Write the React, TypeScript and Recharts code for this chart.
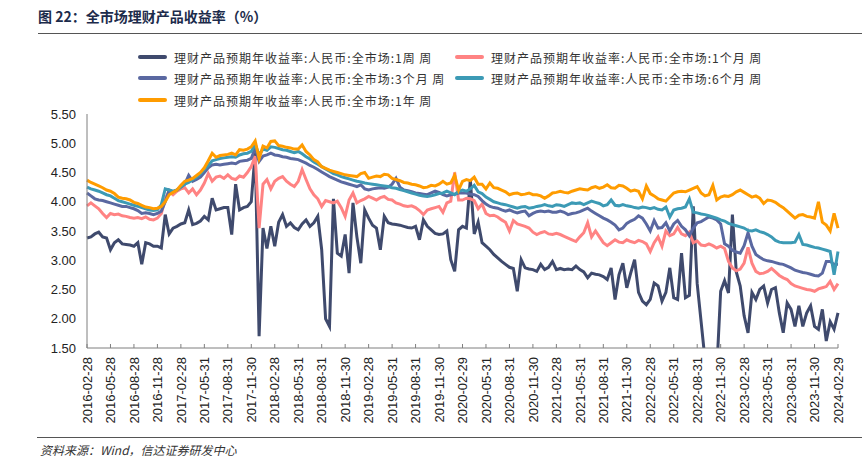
import { Line, LineChart, XAxis, YAxis } from "recharts";

// x positions are months since 2016-02-28, sampled every half month
const TICK_LABELS = [
  "2016-02-28", "2016-05-28", "2016-08-28", "2016-11-28",
  "2017-02-28", "2017-05-31", "2017-08-31", "2017-11-30",
  "2018-02-28", "2018-05-31", "2018-08-31", "2018-11-30",
  "2019-02-28", "2019-05-31", "2019-08-31", "2019-11-30",
  "2020-02-29", "2020-05-31", "2020-08-31", "2020-11-30",
  "2021-02-28", "2021-05-31", "2021-08-31", "2021-11-30",
  "2022-02-28", "2022-05-31", "2022-08-31", "2022-11-30",
  "2023-02-28", "2023-05-31", "2023-08-31", "2023-11-30",
  "2024-02-29",
];
const X_TICKS = TICK_LABELS.map((_, i) => i * 3);
const Y_TICKS = [1.5, 2, 2.5, 3, 3.5, 4, 4.5, 5, 5.5];

const SERIES_NAMES = [
  "理财产品预期年收益率:人民币:全市场:1周 周",
  "理财产品预期年收益率:人民币:全市场:1个月 周",
  "理财产品预期年收益率:人民币:全市场:3个月 周",
  "理财产品预期年收益率:人民币:全市场:6个月 周",
  "理财产品预期年收益率:人民币:全市场:1年 周",
];
const SERIES_COLORS = ["#3f4a6d", "#ff8383", "#5a68a1", "#3c9ab5", "#ff9c00"];

const week1 = [
  3.38, 3.40, 3.45, 3.48, 3.40, 3.38, 3.18, 3.30, 3.35, 3.28, 3.27, 3.26, 3.24, 3.30, 2.93, 3.30, 3.28, 3.24, 3.24, 3.21, 3.78, 3.45, 3.55, 3.58,
  3.62, 3.64, 3.86, 3.61, 3.63, 3.67, 3.75, 3.69, 4.06, 3.86, 3.88, 3.90, 3.90, 3.44, 4.30, 3.86, 3.90, 3.92, 4.00, 4.85, 1.70, 3.55, 3.20, 3.58,
  3.24, 3.65, 3.78, 3.58, 3.64, 3.56, 3.52, 3.62, 3.69, 3.58, 3.64, 3.75, 3.18, 2.00, 1.87, 4.05, 3.12, 3.07, 3.44, 2.78, 3.98, 3.40, 2.95, 3.86,
  3.72, 3.60, 3.55, 3.18, 3.75, 3.64, 3.62, 3.61, 3.60, 3.58, 3.56, 3.55, 3.58, 3.35, 3.69, 3.58, 3.52, 3.46, 3.44, 3.45, 3.50, 3.01, 2.81, 3.52,
  3.58, 3.55, 4.38, 3.45, 3.65, 3.30, 3.24, 3.18, 3.10, 3.04, 2.98, 2.93, 2.88, 2.86, 2.47, 3.01, 2.87, 2.85, 2.84, 2.81, 2.93, 2.84, 2.88, 2.98,
  2.84, 2.86, 2.84, 2.85, 2.84, 2.90, 2.84, 2.80, 2.70, 2.78, 2.76, 2.75, 2.72, 2.67, 2.87, 2.33, 2.75, 2.95, 2.53, 2.78, 3.01, 2.45, 2.30, 2.24,
  2.33, 2.61, 2.56, 2.30, 2.45, 2.87, 2.36, 2.33, 3.12, 2.36, 2.40, 3.92, 2.60, 1.95, 1.30, 0.80, 0.60, 1.10, 2.47, 2.65, 2.44, 3.78, 2.80, 2.56,
  2.05, 1.76, 2.45, 2.33, 2.50, 2.56, 2.27, 2.50, 2.53, 2.10, 1.76, 2.27, 2.16, 1.87, 2.22, 1.87, 2.10, 2.22, 1.87, 1.82, 2.16, 1.62, 1.95, 1.82,
  2.10,
];

const month1 = [
  3.93, 3.98, 3.93, 3.88, 3.80, 3.73, 3.80, 3.78, 3.79, 3.76, 3.75, 3.73, 3.72, 3.73, 3.71, 3.74, 3.70, 3.69, 3.72, 3.80, 4.05, 4.18, 4.12, 4.18,
  4.22, 4.24, 4.15, 4.22, 4.12, 4.20, 4.32, 4.48, 4.35, 4.42, 4.44, 4.40, 4.46, 4.40, 4.38, 4.44, 4.42, 4.50, 4.60, 4.78, 3.55, 4.30, 4.38, 4.22,
  4.35, 4.40, 4.43, 4.35, 4.30, 4.26, 4.35, 4.55, 4.38, 4.22, 4.12, 4.05, 3.92, 4.02, 4.00, 3.98, 4.01, 3.90, 3.75, 4.03, 4.15, 3.98, 4.02, 4.05,
  4.09, 4.06, 4.03, 4.07, 4.09, 4.04, 4.03, 3.98, 3.96, 3.93, 3.92, 3.93, 3.90, 3.85, 3.78, 3.86, 3.88, 3.90, 3.92, 3.82, 3.98, 4.01, 4.50, 4.03,
  4.03, 4.06, 4.05, 4.02, 3.88, 3.96, 3.80, 3.76, 3.77, 3.74, 3.69, 3.65, 3.50, 3.68, 3.62, 3.60, 3.58, 3.55, 3.48, 3.44, 3.47, 3.49, 3.45, 3.44,
  3.46, 3.44, 3.41, 3.38, 3.35, 3.32, 3.40, 3.47, 3.64, 3.40, 3.50, 3.40, 3.30, 3.25, 3.30, 3.35, 3.31, 3.30, 3.35, 3.32, 3.30, 3.34, 3.32, 3.28,
  3.15, 3.30, 3.40, 3.24, 3.50, 3.42, 3.45, 3.56, 3.45, 3.42, 3.48, 3.30, 3.33, 3.26, 3.25, 3.28, 3.25, 3.21, 3.24, 3.20, 2.98, 2.87, 2.82, 2.85,
  2.95, 3.22, 2.95, 2.81, 2.77, 2.78, 2.81, 2.86, 2.80, 2.74, 2.70, 2.67, 2.60, 2.56, 2.54, 2.52, 2.50, 2.49, 2.47, 2.51, 2.53, 2.55, 2.64, 2.50,
  2.60,
];

const month3 = [
  4.15, 4.10, 4.05, 4.03, 4.02, 4.00, 3.98, 3.96, 3.94, 3.92, 3.92, 3.90, 3.88, 3.85, 3.80, 3.81, 3.80, 3.78, 3.80, 3.84, 4.00, 4.20, 4.17, 4.20,
  4.25, 4.30, 4.45, 4.35, 4.38, 4.42, 4.50, 4.58, 4.63, 4.64, 4.63, 4.64, 4.65, 4.66, 4.65, 4.69, 4.70, 4.71, 4.74, 4.92, 4.69, 4.78, 4.80, 4.83,
  4.80, 4.79, 4.77, 4.76, 4.74, 4.73, 4.72, 4.69, 4.66, 4.62, 4.59, 4.55, 4.51, 4.47, 4.43, 4.40, 4.37, 4.34, 4.32, 4.30, 4.28, 4.26, 4.29, 4.22,
  4.20, 4.22, 4.23, 4.24, 4.23, 4.25, 4.30, 4.40, 4.25, 4.20, 4.19, 4.17, 4.15, 4.14, 4.13, 4.12, 4.15, 4.18, 4.16, 4.12, 4.10, 4.12, 4.13, 4.15,
  4.15, 4.15, 4.13, 4.12, 4.09, 4.02, 3.96, 3.92, 3.90, 3.89, 3.86, 3.84, 3.86, 3.83, 3.81, 3.83, 3.84, 3.76, 3.80, 3.83, 3.84, 3.83, 3.84, 3.82,
  3.82, 3.84, 3.82, 3.78, 3.80, 3.81, 3.83, 3.86, 3.89, 3.84, 3.80, 3.76, 3.72, 3.69, 3.65, 3.60, 3.52, 3.55, 3.63, 3.67, 3.70, 3.76, 3.72, 3.62,
  3.50, 3.68, 3.55, 3.56, 3.64, 3.50, 3.62, 3.68, 3.58, 3.52, 3.42, 3.55, 3.64, 3.66, 3.70, 3.74, 3.72, 3.69, 3.62, 3.28, 3.24, 3.17, 3.14, 3.12,
  3.25, 3.47, 3.24, 3.10, 3.05, 3.01, 2.99, 2.98, 2.96, 2.94, 2.93, 2.90, 2.87, 2.83, 2.81, 2.79, 2.78, 2.76, 2.74, 2.73, 2.78, 2.98, 2.98, 2.93,
  2.93,
];

const month6 = [
  4.25, 4.22, 4.20, 4.18, 4.15, 4.12, 4.10, 4.06, 4.02, 4.00, 3.98, 3.96, 3.94, 3.92, 3.90, 3.88, 3.86, 3.85, 3.86, 3.95, 4.22, 4.20, 4.18, 4.20,
  4.25, 4.30, 4.33, 4.38, 4.42, 4.48, 4.55, 4.62, 4.70, 4.72, 4.74, 4.75, 4.76, 4.77, 4.76, 4.80, 4.82, 4.83, 4.86, 4.98, 4.80, 4.90, 4.88, 4.94,
  4.93, 4.91, 4.89, 4.88, 4.86, 4.84, 4.86, 4.82, 4.77, 4.73, 4.68, 4.64, 4.60, 4.56, 4.52, 4.48, 4.46, 4.43, 4.41, 4.39, 4.37, 4.35, 4.34, 4.32,
  4.31, 4.30, 4.29, 4.28, 4.27, 4.26, 4.24, 4.23, 4.21, 4.19, 4.17, 4.15, 4.13, 4.11, 4.10, 4.09, 4.10, 4.12, 4.14, 4.15, 4.18, 4.15, 4.12, 4.18,
  4.20, 4.18, 4.22, 4.28, 4.17, 4.14, 4.08, 4.04, 4.00, 3.98, 3.96, 3.95, 3.93, 3.91, 3.89, 3.91, 3.92, 3.89, 3.90, 3.92, 3.93, 3.95, 3.93, 3.92,
  3.95, 3.94, 3.92, 3.95, 3.98, 3.97, 3.98, 3.95, 3.98, 4.01, 3.99, 3.97, 3.93, 3.95, 4.03, 3.94, 3.93, 3.95, 3.93, 3.92, 3.90, 3.89, 3.91, 3.90,
  3.88, 3.90, 3.87, 3.86, 3.91, 3.74, 3.86, 3.88, 3.89, 3.91, 4.05, 3.82, 3.81, 3.79, 3.78, 3.76, 3.74, 3.72, 3.69, 3.67, 3.63, 3.61, 3.59, 3.57,
  3.55, 3.51, 3.50, 3.52, 3.49, 3.47, 3.44, 3.40, 3.34, 3.31, 3.30, 3.30, 3.30, 3.31, 3.44, 3.27, 3.26, 3.24, 3.22, 3.21, 3.19, 3.17, 3.15, 2.75,
  3.15,
];

const year1 = [
  4.37, 4.33, 4.30, 4.27, 4.24, 4.20, 4.18, 4.14, 4.08, 4.06, 4.05, 4.03, 3.99, 3.97, 3.94, 3.91, 3.90, 3.88, 3.89, 3.92, 4.00, 4.12, 4.16, 4.20,
  4.28, 4.35, 4.37, 4.40, 4.45, 4.50, 4.58, 4.70, 4.83, 4.76, 4.79, 4.80, 4.81, 4.83, 4.80, 4.89, 4.88, 4.90, 4.94, 5.04, 4.74, 4.95, 4.92, 5.03,
  5.04, 4.96, 4.95, 4.93, 4.92, 4.90, 4.90, 4.97, 4.86, 4.80, 4.72, 4.68, 4.60, 4.57, 4.54, 4.52, 4.50, 4.48, 4.46, 4.45, 4.44, 4.43, 4.48, 4.50,
  4.40, 4.42, 4.44, 4.43, 4.47, 4.46, 4.40, 4.38, 4.36, 4.33, 4.32, 4.30, 4.29, 4.27, 4.24, 4.25, 4.28, 4.27, 4.30, 4.35, 4.30, 4.32, 4.45, 4.20,
  4.35, 4.38, 4.36, 4.42, 4.30, 4.30, 4.22, 4.32, 4.24, 4.23, 4.20, 4.17, 4.12, 4.14, 4.15, 4.12, 4.13, 4.15, 4.12, 4.12, 4.10, 4.06, 4.10, 4.15,
  4.16, 4.18, 4.16, 4.15, 4.18, 4.20, 4.22, 4.21, 4.20, 4.24, 4.26, 4.23, 4.25, 4.29, 4.24, 4.23, 4.28, 4.27, 4.23, 4.18, 4.20, 4.18, 4.05, 4.27,
  4.14, 4.10, 4.05, 4.03, 4.01, 4.08, 4.15, 4.17, 4.18, 4.17, 4.20, 4.23, 4.26, 4.15, 4.10, 4.12, 4.28, 4.03, 4.08, 4.10, 4.09, 4.12, 4.17, 4.20,
  4.16, 4.12, 4.08, 4.10, 4.06, 3.97, 4.03, 4.02, 3.99, 3.94, 3.90, 3.84, 3.78, 3.72, 3.77, 3.78, 3.75, 3.74, 3.72, 4.00, 3.65, 3.60, 3.50, 3.80,
  3.55,
];

const SERIES = [week1, month1, month3, month6, year1];
const KEYS = ["w1", "m1", "m3", "m6", "y1"];

const data = week1.map((_, i) => {
  const row: Record<string, number> = { m: i / 2 };
  SERIES.forEach((s, k) => {
    row[KEYS[k]] = s[i];
  });
  return row;
});

const AXIS_COLOR = "#7f7f7f";
const SANS = "'Liberation Sans', Arial, sans-serif";
const CJK = "'Noto Sans CJK SC', sans-serif";

function DateTick(props: any) {
  const { x, y, payload } = props;
  const label = TICK_LABELS[Math.round(payload.value / 3)];
  const ty = y + 9;
  return (
    <g>
      <line x1={x} y1={y} x2={x} y2={y - 4} stroke={AXIS_COLOR} />
      <text
        x={x}
        y={ty}
        transform={`rotate(-90, ${x}, ${ty})`}
        textAnchor="end"
        dy="0.36em"
        fontSize={13}
        fontFamily={SANS}
        fill="#222"
      >
        {label}
      </text>
    </g>
  );
}

const LEGEND_POS = [
  { left: 138, top: 57 },
  { left: 455, top: 57 },
  { left: 138, top: 78 },
  { left: 455, top: 78 },
  { left: 138, top: 100 },
];

export default function App() {
  return (
    <div
      style={{
        position: "fixed",
        left: 0,
        top: 0,
        width: 862,
        height: 467,
        background: "#fff",
        overflow: "hidden",
      }}
    >
      <div
        style={{
          position: "absolute",
          left: 38,
          top: 6,
          fontFamily: CJK,
          fontWeight: 700,
          fontSize: 14,
          color: "#1c2b4b",
          whiteSpace: "nowrap",
        }}
      >
        图 22：全市场理财产品收益率（%）
      </div>
      <div style={{ position: "absolute", left: 38, top: 33, width: 824, height: 1, background: "#555" }} />

      {SERIES_NAMES.map((name, i) => (
        <div
          key={name}
          style={{
            position: "absolute",
            left: LEGEND_POS[i].left,
            top: LEGEND_POS[i].top - 9,
            height: 18,
            display: "flex",
            alignItems: "center",
            whiteSpace: "nowrap",
          }}
        >
          <div style={{ width: 29, height: 4, borderRadius: 2, background: SERIES_COLORS[i], marginRight: 7 }} />
          <span style={{ fontFamily: CJK, fontSize: 12, color: "#333", letterSpacing: 1 }}>{name}</span>
        </div>
      ))}

      <div style={{ position: "absolute", left: 0, top: 0 }}>
        <LineChart
          width={862}
          height={467}
          data={data}
          margin={{ top: 114, right: 24, bottom: 39, left: 27 }}
        >
          <XAxis
            dataKey="m"
            type="number"
            domain={[0, 96]}
            ticks={X_TICKS}
            interval={0}
            height={80}
            tickSize={0}
            tickMargin={0}
            tickLine={false}
            axisLine={{ stroke: AXIS_COLOR }}
            tick={<DateTick />}
          />
          <YAxis
            type="number"
            domain={[1.5, 5.5]}
            ticks={Y_TICKS}
            allowDataOverflow
            width={60}
            tickSize={0}
            tickMargin={11}
            tickLine={false}
            axisLine={{ stroke: AXIS_COLOR }}
            tickFormatter={(v: number) => v.toFixed(2)}
            tick={{ fontSize: 13, fontFamily: SANS, fill: "#222" }}
          />
          {KEYS.map((k, i) => (
            <Line
              key={k}
              type="linear"
              dataKey={k}
              stroke={SERIES_COLORS[i]}
              strokeWidth={3}
              dot={false}
              isAnimationActive={false}
            />
          ))}
        </LineChart>
      </div>

      <div style={{ position: "absolute", left: 37, top: 437, width: 825, height: 1, background: "#555" }} />
      <div
        style={{
          position: "absolute",
          left: 40,
          top: 441,
          fontFamily: CJK,
          fontStyle: "italic",
          fontSize: 12,
          color: "#333",
          whiteSpace: "nowrap",
        }}
      >
        资料来源：Wind，信达证券研发中心
      </div>
    </div>
  );
}
